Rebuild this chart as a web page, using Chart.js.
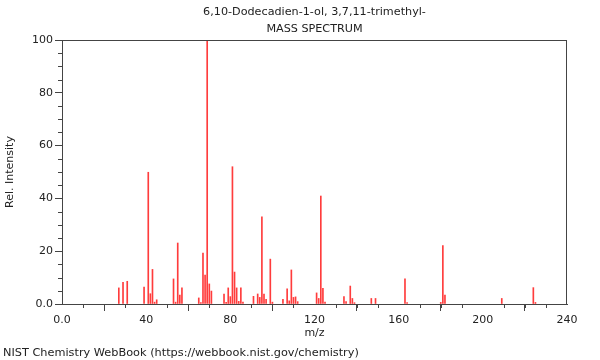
<!DOCTYPE html>
<html lang="en">
<head>
    <meta charset="UTF-8">
    <title>Mass Spectrum</title>
    <script src="https://cdn.jsdelivr.net/npm/chart.js"></script>
    <style>
        body { margin: 0; background: #fff; }
    </style>
</head>
<body>
    <canvas id="msChart" width="600" height="360"></canvas>

    <script>
        // peak positions (m/z) and relative intensities
        const mz = [27, 29, 31, 39, 41, 42, 43, 44, 45, 53, 54, 55, 56, 57,
            65, 66, 67, 68, 69, 70, 71, 77, 78, 79, 80, 81, 82, 83, 84, 85, 86,
            91, 93, 94, 95, 96, 97, 99, 100, 105, 107, 108, 109, 110, 111, 112,
            121, 122, 123, 124, 125, 134, 135, 137, 138, 139, 147, 149,
            163, 164, 180, 181, 182, 209, 224, 225];
        const intensity = [6.1, 8.2, 8.6, 6.4, 49.9, 3.9, 13.1, 0.7, 1.6, 9.5, 0.7, 23.1, 3.4, 6.1,
            2.3, 0.5, 19.3, 11, 100, 7.6, 4.9, 3.8, 0.6, 6.1, 2.8, 52, 12.1, 6.1, 1, 6.1, 0.7,
            2.9, 3.8, 2.5, 33, 3.8, 1.8, 17, 0.7, 1.8, 5.7, 1.2, 12.9, 2.5, 2.7, 0.9,
            4.2, 2.1, 40.9, 5.9, 0.7, 2.8, 0.9, 6.8, 2.1, 0.5, 2.1, 2.1,
            9.5, 0.5, 0.6, 22.1, 3.4, 2.1, 6.2, 0.6];

        const titleLines = ['6,10-Dodecadien-1-ol, 3,7,11-trimethyl-', 'MASS SPECTRUM'];
        const footerText = 'NIST Chemistry WebBook (https://webbook.nist.gov/chemistry)';

        const font = 'DejaVu Sans';
        const axisColor = '#444';
        const textColor = '#222';

        // frame on top/right, minor ticks, footer line
        const extras = {
            id: 'extras',
            afterDraw(chart) {
                const ctx = chart.ctx;
                const area = chart.chartArea;
                const xs = chart.scales.x;
                const ys = chart.scales.y;
                ctx.save();
                ctx.strokeStyle = axisColor;
                ctx.lineWidth = 1;
                ctx.beginPath();
                ctx.moveTo(area.left, area.top + 0.5);
                ctx.lineTo(area.right, area.top + 0.5);
                ctx.moveTo(area.right - 0.5, area.top);
                ctx.lineTo(area.right - 0.5, area.bottom);
                // minor ticks
                for (let v = 0; v <= 240; v += 10) {
                    if (v % 40 === 0) continue;
                    const px = Math.round(xs.getPixelForValue(v)) + 0.5;
                    ctx.moveTo(px, area.bottom);
                    ctx.lineTo(px, area.bottom + 4);
                }
                for (let v = 0; v <= 100; v += 5) {
                    if (v % 20 === 0) continue;
                    const py = Math.round(ys.getPixelForValue(v)) + 0.5;
                    ctx.moveTo(area.left - 4, py);
                    ctx.lineTo(area.left, py);
                }
                ctx.stroke();

                ctx.fillStyle = textColor;
                ctx.font = '11.3px "' + font + '"';
                ctx.textBaseline = 'middle';
                ctx.textAlign = 'left';
                ctx.fillText(footerText, 3, 353);
                ctx.restore();
            }
        };

        const ctx = document.getElementById('msChart').getContext('2d');
        new Chart(ctx, {
            type: 'bar',
            data: {
                datasets: [{
                    data: mz.map((m, i) => ({ x: m, y: intensity[i] })),
                    backgroundColor: 'rgb(255, 60, 60)',
                    borderWidth: 0,
                    barThickness: 1
                }]
            },
            options: {
                responsive: false,
                animation: false,
                layout: { padding: { top: 0, right: 33, bottom: 18, left: 0 } },
                plugins: {
                    legend: { display: false },
                    tooltip: { enabled: false },
                    title: {
                        display: true,
                        fullSize: false,
                        text: titleLines,
                        color: textColor,
                        font: { family: font, size: 11.2, weight: 'normal', lineHeight: '17px' },
                        padding: { top: 4, bottom: 2 }
                    }
                },
                scales: {
                    x: {
                        type: 'linear',
                        min: 0,
                        max: 240,
                        offset: false,
                        afterFit: (s) => { s.height = 38; },
                        ticks: {
                            stepSize: 40,
                            padding: 3,
                            maxRotation: 0,
                            color: textColor,
                            font: { family: font, size: 11 },
                            callback: (v) => v === 0 ? '0.0' : v
                        },
                        grid: { drawOnChartArea: false, tickLength: 7, tickColor: axisColor },
                        border: { color: axisColor },
                        title: {
                            display: true,
                            text: 'm/z',
                            color: textColor,
                            font: { family: font, size: 11 },
                            padding: { top: 0, bottom: 2 }
                        }
                    },
                    y: {
                        min: 0,
                        max: 100,
                        afterFit: (s) => { s.width = 62; },
                        ticks: {
                            stepSize: 20,
                            padding: 2,
                            color: textColor,
                            font: { family: font, size: 11 },
                            callback: (v) => v === 0 ? '0.0' : v
                        },
                        grid: { drawOnChartArea: false, tickLength: 7, tickColor: axisColor },
                        border: { color: axisColor },
                        title: {
                            display: true,
                            text: 'Rel. Intensity',
                            color: textColor,
                            font: { family: font, size: 11 },
                            padding: { top: 4, bottom: 0 }
                        }
                    }
                }
            },
            plugins: [extras]
        });
    </script>
</body>
</html>
